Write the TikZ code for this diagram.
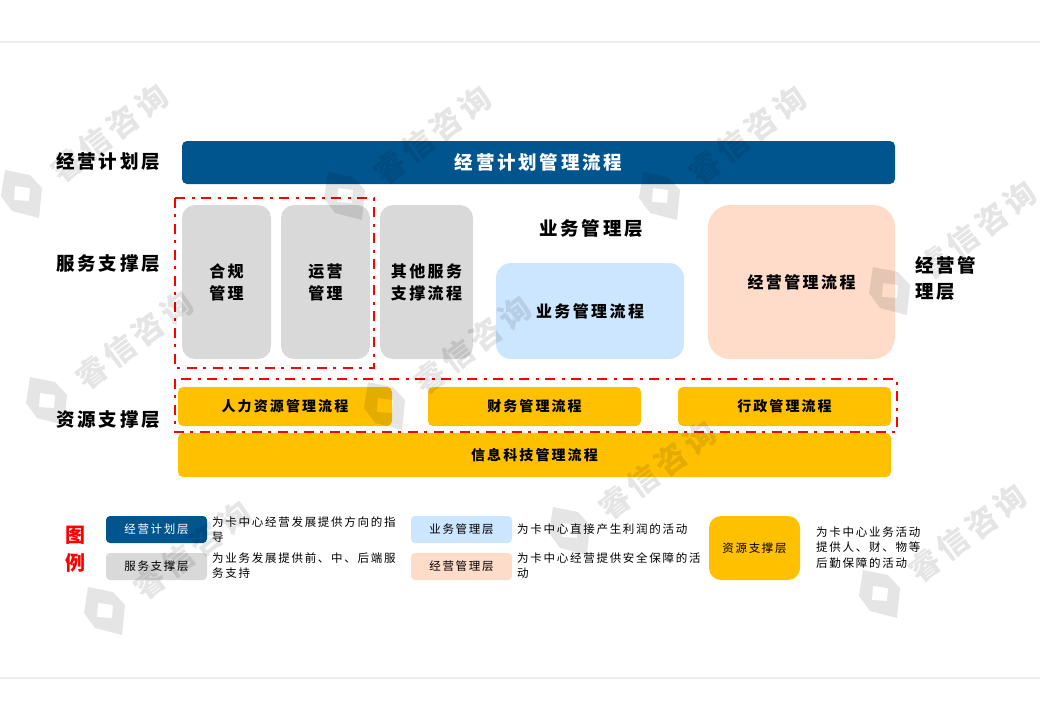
\documentclass[tikz,border=0pt]{standalone}
\usepackage{fontspec}
\setmainfont{Noto Sans CJK SC}
\newfontfamily\cjkfont[LetterSpace=15]{Noto Sans CJK SC}
\usepackage{xcolor}
\usetikzlibrary{positioning}

\definecolor{planblue}{HTML}{00558F}
\definecolor{supportgray}{HTML}{D9D9D9}
\definecolor{bizblue}{HTML}{CCE6FF}
\definecolor{mgmtpeach}{HTML}{FFDCC9}
\definecolor{resyellow}{HTML}{FFC000}
\definecolor{ruleline}{HTML}{EDEDED}

\tikzset{
  wmark/.pic={
    \fill[black,fill opacity=0.1,even odd rule]
      (-17,-23) -- (8,-18) -- (20,-5) -- (17,25) -- (-10,18) -- (-21,3) -- cycle
      (-7,-7) -- (8,-5) -- (7,8) -- (-8,7) -- cycle;
    \node[text=black,text opacity=0.1,rotate=37,font=\fontsize{31}{31}\selectfont\cjkfont\bfseries]
      (txt) at (87,-60) {睿信咨询};
  }
}

\begin{document}
\begin{tikzpicture}[
  x=1pt,y=-1pt,
  fs/.style 2 args={font=\fontsize{#1}{#2}\selectfont\cjkfont\bfseries},
  box/.style={rounded corners=#1,inner sep=0pt,align=center},
  plain/.style={inner sep=0pt,align=left,fs={18.5}{26}},
  frameline/.style={draw=red,line width=2pt,dash pattern=on 10pt off 6pt on 3pt off 7pt},
  legendbox/.style={box=4pt,minimum width=101pt,minimum height=27pt,
                    font=\fontsize{11.5}{15}\selectfont\cjkfont},
  legendtxt/.style={inner sep=0pt,anchor=north west,align=left,
                    font=\fontsize{11.5}{15.5}\selectfont\cjkfont}
]
\useasboundingbox (0,0) rectangle (1040,720);
\coordinate (rulea) at (0,42);
\coordinate (ruleb) at (1040,42);
\coordinate (rulec) at (0,678);
\coordinate (ruled) at (1040,678);
\draw[ruleline,line width=2.5pt] (rulea) -- (ruleb);
\draw[ruleline,line width=2.5pt] (rulec) -- (ruled);

% layer names on the left and right
\node[plain] (lplan) at (108,162) {经营计划层};
\node[plain] (lserv) at (108,264) {服务支撑层};
\node[plain] (lres)  at (108,420) {资源支撑层};
\node[plain] (lbiz)  at (591,228) {业务管理层};
\node[plain,anchor=west] (lmgmt) at (915,278) {经营管\\理层};

% main blocks
\node[box=5pt,fill=planblue,text=white,fs={18.5}{26},minimum width=713pt,minimum height=43pt] (plan) at (538.5,162.5) {经营计划管理流程};
\node[box=13pt,fill=supportgray,fs={16}{22},minimum width=89pt,minimum height=154pt] (comp) at (226.5,282) {合规\\管理};
\node[box=13pt,fill=supportgray,fs={16}{22},minimum width=89pt,minimum height=154pt] (oper) at (325.5,282) {运营\\管理};
\node[box=13pt,fill=supportgray,fs={16}{22},minimum width=93pt,minimum height=154pt] (other) at (426.5,282) {其他服务\\支撑流程};
\node[box=15pt,fill=bizblue,fs={16}{22},minimum width=188pt,minimum height=96pt] (biz) at (590,311) {业务管理流程};
\node[box=22pt,fill=mgmtpeach,fs={16}{22},minimum width=187pt,minimum height=154pt] (mgmt) at (801.5,282) {经营管理流程};
\node[box=5pt,fill=resyellow,fs={14}{18},minimum width=214pt,minimum height=39pt] (hr) at (285,406.5) {人力资源管理流程};
\node[box=5pt,fill=resyellow,fs={14}{18},minimum width=213pt,minimum height=39pt] (fin) at (534.5,406.5) {财务管理流程};
\node[box=5pt,fill=resyellow,fs={14}{18},minimum width=213pt,minimum height=39pt] (adm) at (784.5,406.5) {行政管理流程};
\node[box=5pt,fill=resyellow,fs={14}{18},minimum width=713pt,minimum height=44pt] (tech) at (534.5,455) {信息科技管理流程};

% red frames
\draw[frameline] (175,198) rectangle (374,368);
\draw[frameline] (175,379) rectangle (897,432);

% legend
\node[inner sep=0pt,text=red,align=center,font=\fontsize{20}{28}\selectfont\bfseries] (lgnd) at (75,549) {图\\例};
\node[legendbox,fill=planblue,text=white] (kplan) at (156.5,529.5) {经营计划层};
\node[legendbox,fill=supportgray] (kserv) at (156.5,566.5) {服务支撑层};
\node[legendbox,fill=bizblue] (kbiz) at (461.5,529.5) {业务管理层};
\node[legendbox,fill=mgmtpeach] (kmgmt) at (461.5,566.5) {经营管理层};
\node[legendbox,box=12pt,fill=resyellow,minimum width=91pt,minimum height=64pt] (kres) at (754.5,548) {资源支撑层};
\node[legendtxt] (tplan) at (212,516.5) {为卡中心经营发展提供方向的指\\导};
\node[legendtxt] (tserv) at (212,552.5) {为业务发展提供前、中、后端服\\务支持};
\node[legendtxt] (tbiz)  at (517,523.5) {为卡中心直接产生利润的活动};
\node[legendtxt] (tmgmt) at (517,552.5) {为卡中心经营提供安全保障的活\\动};
\node[legendtxt] (tres)  at (816,526.5) {为卡中心业务活动\\提供人、财、物等\\后勤保障的活动};

% watermarks go over everything
\foreach \i/\x/\y in {a/22/193,b/345/195,c/660/195,d/890/290,e/47/400,f/385/405,g/570/530,h/105/610,j/880/593}
  \pic (w\i) at (\x,\y) {wmark};
\end{tikzpicture}
\end{document}
